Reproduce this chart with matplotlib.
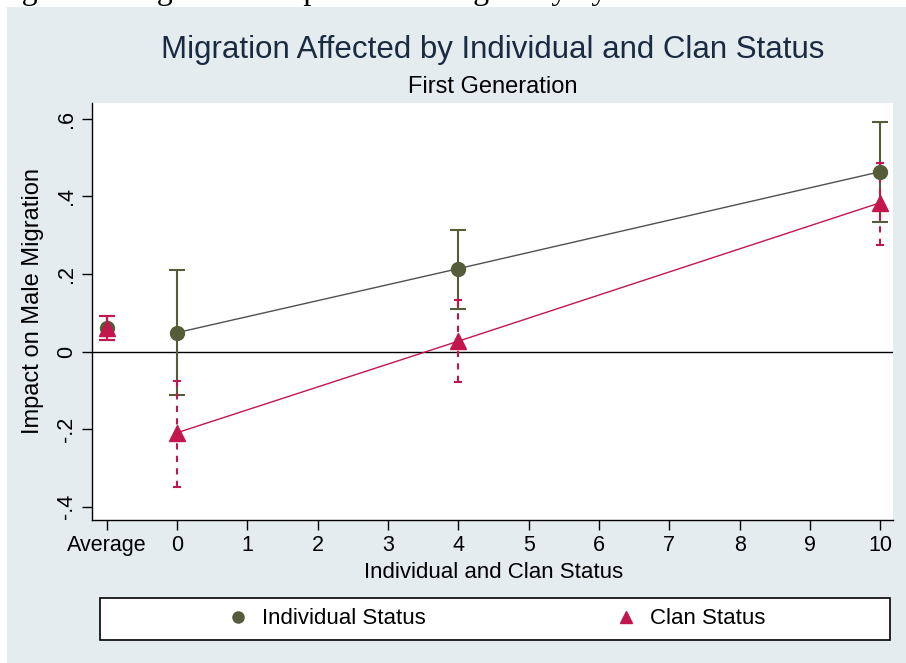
import matplotlib
matplotlib.use("Agg")
import matplotlib.pyplot as plt
from matplotlib.patches import Rectangle
from matplotlib.lines import Line2D
import numpy as np

plt.rcParams['font.family'] = ['Liberation Sans', 'DejaVu Sans']

# ---- data ----
x_ticks = [-1, 0, 1, 2, 3, 4, 5, 6, 7, 8, 9, 10]
x_ticklabels = ["Average", "0", "1", "2", "3", "4", "5", "6", "7", "8", "9", "10"]
y_ticks = [-0.4, -0.2, 0.0, 0.2, 0.4, 0.6]
y_ticklabels = ["-.4", "-.2", "0", ".2", ".4", ".6"]

avg_x = [-1]
avg_est = [0.060]
avg_lo = [0.029]
avg_hi = [0.091]

status_x = [0, 4, 10]
ind_est = [0.049, 0.214, 0.464]
ind_lo = [-0.113, 0.110, 0.333]
ind_hi = [0.210, 0.314, 0.593]

clan_est = [-0.209, 0.027, 0.384]
clan_lo = [-0.350, -0.077, 0.276]
clan_hi = [-0.075, 0.132, 0.487]

title = "Migration Affected by Individual and Clan Status"
subtitle = "First Generation"
xlabel = "Individual and Clan Status"
ylabel = "Impact on Male Migration"
legend_labels = ["Individual Status", "Clan Status"]
header = "Figure 5: Migration Response Heterogeneity by Individual and Clan Status"

# ---- styles ----
W, H = 906, 663
bg = "#e4ecf0"
ind_col = "#545c3a"
ind_line = "#505050"
clan_col = "#c2164c"

fig = plt.figure(figsize=(W / 100, H / 100), dpi=100)
fig.patch.set_facecolor("white")
fig.patches.append(Rectangle((7 / W, 0), 1 - 7 / W, 1 - 7 / H, transform=fig.transFigure,
                             facecolor=bg, edgecolor="none", zorder=-10))
fig.text(-5 / W, 1 + 0.5 / H, header, family="Liberation Serif", fontsize=23,
         ha="left", va="baseline", color="black")

ax = fig.add_axes([92 / W, 1 - 520 / H, (893 - 92) / W, (520 - 103) / H])
ax.set_facecolor("white")
ax.set_xlim(-1.21, 10.18)
ax.set_ylim(-0.434, 0.641)

ax.axhline(0, color="black", lw=1.0, zorder=1)

# connecting lines
ax.plot(status_x, ind_est, color=ind_line, lw=1.0, zorder=2)
ax.plot(status_x, clan_est, color=clan_col, lw=1.0, zorder=2)

def ci(x, est, lo, hi, col, ls, capw):
    est = np.array(est); lo = np.array(lo); hi = np.array(hi)
    eb = ax.errorbar(x, est, yerr=[est - lo, hi - est], fmt="none", ecolor=col,
                     elinewidth=1.5, capsize=capw, capthick=1.5, zorder=3)
    for lc in eb[2]:
        lc.set_linestyle(ls)
    return eb

ci(status_x, ind_est, ind_lo, ind_hi, ind_col, "-", 6)
ci(status_x, clan_est, clan_lo, clan_hi, clan_col, (0, (3, 3)), 3)
ci(avg_x, avg_est, avg_lo, avg_hi, ind_col, "-", 6)
ci(avg_x, avg_est, avg_lo, avg_hi, clan_col, "-", 6)

ax.plot(status_x + avg_x, ind_est + avg_est, "o", color=ind_col, ms=10, zorder=4, mec=ind_col)
ax.plot(status_x + avg_x, clan_est + avg_est, "^", color=clan_col, ms=11, zorder=5, mec=clan_col)

ax.set_xticks(x_ticks)
ax.set_xticklabels(x_ticklabels, fontsize=15.5)
ax.set_yticks(y_ticks)
ax.set_yticklabels(y_ticklabels, fontsize=15.5, rotation=90, va="center")
ax.tick_params(axis="both", length=7, width=1, color="black", pad=4)
for s in ["top", "right"]:
    ax.spines[s].set_visible(False)
for s in ["left", "bottom"]:
    ax.spines[s].set_color("black")
    ax.spines[s].set_linewidth(1)

fig.text(493 / W, 1 - 50 / H, title, fontsize=22.5, ha="center", va="center", color="#1a2a40")
fig.text(493 / W, 1 - 87 / H, subtitle, fontsize=17, ha="center", va="center")
fig.text(494 / W, 1 - 572 / H, xlabel, fontsize=16, ha="center", va="center")
fig.text(33 / W, 1 - 301 / H, ylabel, fontsize=17, ha="center", va="center", rotation=90)

# legend box
fig.patches.append(Rectangle((100 / W, 1 - 640 / H), 790 / W, 42 / H, transform=fig.transFigure,
                             facecolor="white", edgecolor="black", lw=1.2, zorder=1))
handles = [Line2D([], [], ls="none", marker="o", color=ind_col, ms=8),
           Line2D([], [], ls="none", marker="^", color=clan_col, ms=9)]
fig.legend(handles, legend_labels, loc="center", bbox_to_anchor=(496 / W, 1 - 619 / H),
           ncol=2, frameon=False, fontsize=16, handletextpad=0.6, columnspacing=8.5,
           handlelength=1.0)

fig.savefig("out.png", dpi=100, facecolor=fig.get_facecolor())
